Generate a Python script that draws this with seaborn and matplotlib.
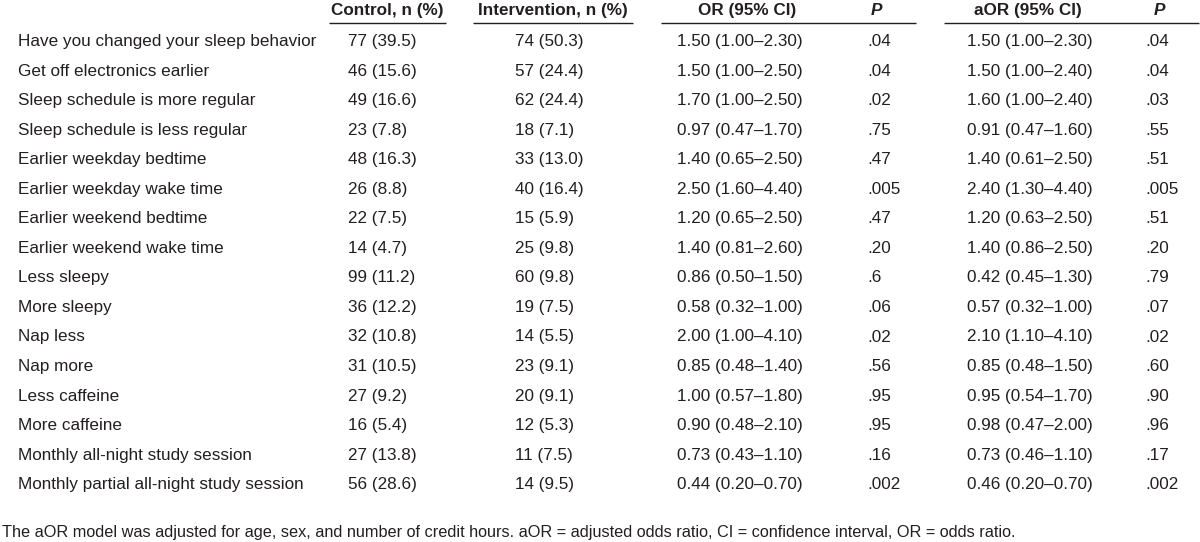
import matplotlib
matplotlib.use("Agg")
import matplotlib.pyplot as plt
import seaborn as sns
import pandas as pd

# Table content
row_labels = [
    "Have you changed your sleep behavior",
    "Get off electronics earlier",
    "Sleep schedule is more regular",
    "Sleep schedule is less regular",
    "Earlier weekday bedtime",
    "Earlier weekday wake time",
    "Earlier weekend bedtime",
    "Earlier weekend wake time",
    "Less sleepy",
    "More sleepy",
    "Nap less",
    "Nap more",
    "Less caffeine",
    "More caffeine",
    "Monthly all-night study session",
    "Monthly partial all-night study session",
]
control = ["77 (39.5)", "46 (15.6)", "49 (16.6)", "23 (7.8)", "48 (16.3)", "26 (8.8)",
           "22 (7.5)", "14 (4.7)", "99 (11.2)", "36 (12.2)", "32 (10.8)", "31 (10.5)",
           "27 (9.2)", "16 (5.4)", "27 (13.8)", "56 (28.6)"]
intervention = ["74 (50.3)", "57 (24.4)", "62 (24.4)", "18 (7.1)", "33 (13.0)", "40 (16.4)",
                "15 (5.9)", "25 (9.8)", "60 (9.8)", "19 (7.5)", "14 (5.5)", "23 (9.1)",
                "20 (9.1)", "12 (5.3)", "11 (7.5)", "14 (9.5)"]
or_ci = ["1.50 (1.00–2.30)", "1.50 (1.00–2.50)", "1.70 (1.00–2.50)", "0.97 (0.47–1.70)",
         "1.40 (0.65–2.50)", "2.50 (1.60–4.40)", "1.20 (0.65–2.50)", "1.40 (0.81–2.60)",
         "0.86 (0.50–1.50)", "0.58 (0.32–1.00)", "2.00 (1.00–4.10)", "0.85 (0.48–1.40)",
         "1.00 (0.57–1.80)", "0.90 (0.48–2.10)", "0.73 (0.43–1.10)", "0.44 (0.20–0.70)"]
p_or = [".04", ".04", ".02", ".75", ".47", ".005", ".47", ".20", ".6", ".06", ".02", ".56",
        ".95", ".95", ".16", ".002"]
aor_ci = ["1.50 (1.00–2.30)", "1.50 (1.00–2.40)", "1.60 (1.00–2.40)", "0.91 (0.47–1.60)",
          "1.40 (0.61–2.50)", "2.40 (1.30–4.40)", "1.20 (0.63–2.50)", "1.40 (0.86–2.50)",
          "0.42 (0.45–1.30)", "0.57 (0.32–1.00)", "2.10 (1.10–4.10)", "0.85 (0.48–1.50)",
          "0.95 (0.54–1.70)", "0.98 (0.47–2.00)", "0.73 (0.46–1.10)", "0.46 (0.20–0.70)"]
p_aor = [".04", ".04", ".03", ".55", ".51", ".005", ".51", ".20", ".79", ".07", ".02", ".60",
         ".90", ".96", ".17", ".002"]
headers = ["Control, n (%)", "Intervention, n (%)", "OR (95% CI)", "P", "aOR (95% CI)", "P"]
footnote = ("The aOR model was adjusted for age, sex, and number of credit hours. "
            "aOR = adjusted odds ratio, CI = confidence interval, OR = odds ratio.")

df = pd.DataFrame({
    "label": row_labels, "control": control, "intervention": intervention,
    "or_ci": or_ci, "p_or": p_or, "aor_ci": aor_ci, "p_aor": p_aor,
})

sns.set_theme(style="white")
plt.rcParams["font.family"] = ["Liberation Sans", "DejaVu Sans"]

TXT = "#231f20"
FS = 12.3

fig = plt.figure(figsize=(12, 5.42), dpi=100)
ax = fig.add_axes([0, 0, 1, 1])
ax.set_xlim(0, 1200)
ax.set_ylim(542, 0)
ax.axis("off")

# layout (pixels)
label_x = 18
data_x = [348, 515, 677, 867, 967, 1145]
head_x = [387, 553, 747, 876, 1028, 1159]
head_style = ["normal", "normal", "normal", "italic", "normal", "italic"]
rules = [(329, 446), (473, 633), (661, 916), (944, 1199)]
head_base = 15
rule_y = 23
row0 = 46
step = 29.55

for x, h, st in zip(head_x, headers, head_style):
    ax.text(x, head_base, h, ha="center", va="baseline", fontsize=FS,
            fontweight="bold", fontstyle=st, color=TXT)
for x0, x1 in rules:
    ax.hlines(rule_y, x0, x1, color=TXT, lw=1.0)

cols = ["control", "intervention", "or_ci", "p_or", "aor_ci", "p_aor"]
for i, row in df.iterrows():
    y = row0 + i * step
    ax.text(label_x, y, row["label"], ha="left", va="baseline", fontsize=FS, color=TXT)
    for x, c in zip(data_x, cols):
        ax.text(x, y, row[c], ha="left", va="baseline", fontsize=FS, color=TXT)

ax.text(2, 537, footnote, ha="left", va="baseline", fontsize=11.7, color=TXT)

fig.savefig("out.png", dpi=100)
